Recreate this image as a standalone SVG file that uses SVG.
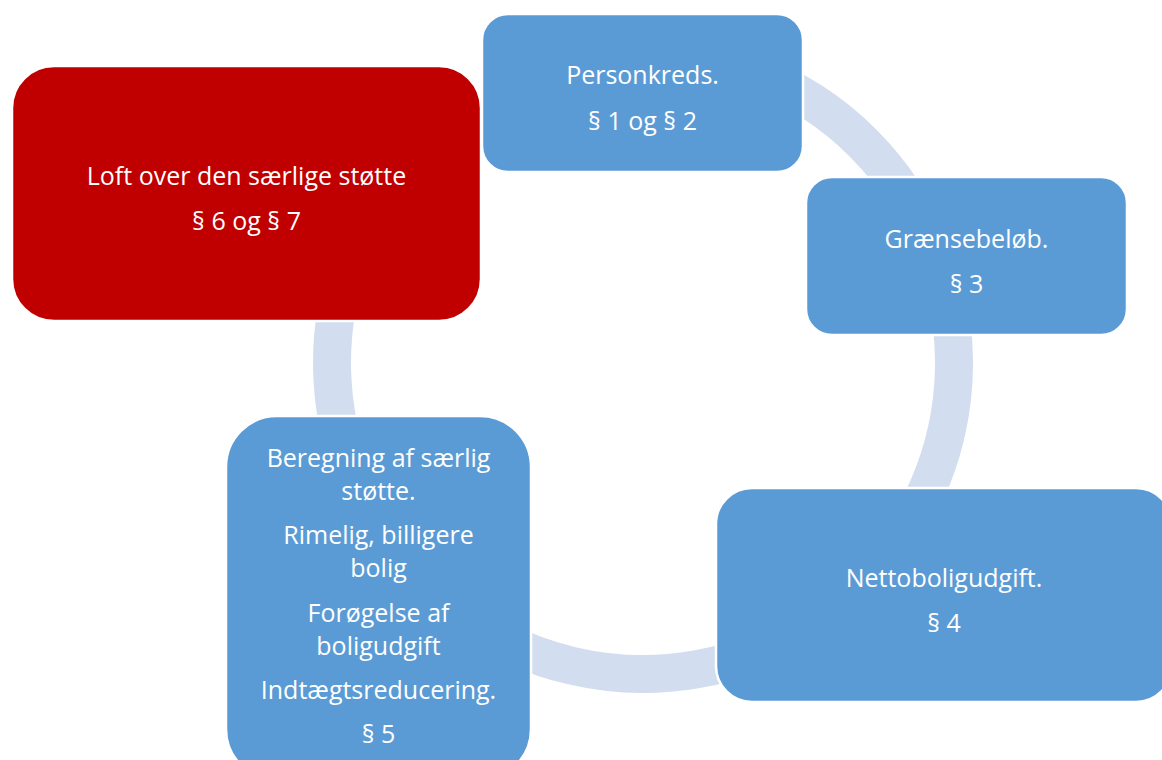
<svg xmlns="http://www.w3.org/2000/svg" width="1162" height="760" viewBox="0 0 1162 760">
<style>
.node{stroke:#FFFFFF;stroke-width:2.5}
.blue{fill:#5B9BD5}
.red{fill:#C00000}
.t{font-family:"Open Sans","Liberation Sans",sans-serif;font-size:25px;fill:#FFFFFF;text-anchor:middle}
.ring{fill:none;stroke:#D2DEEF;stroke-width:38}
</style>
<rect width="1162" height="760" fill="#FFFFFF"/>
<g id="connectors">
<path class="ring" d="M 643 52 A 311 311 0 1 1 350.8 256.6"/>
</g>
<g id="node-personkreds">
<rect class="node blue" x="482" y="14" width="321" height="158" rx="26" ry="26"/>
<text class="t" x="642.5" y="84">Personkreds.</text>
<text class="t" x="642.5" y="130">§ 1 og § 2</text>
</g>
<g id="node-graensebeloeb">
<rect class="node blue" x="806" y="177" width="321" height="158" rx="26" ry="26"/>
<text class="t" x="966.5" y="248">Grænsebeløb.</text>
<text class="t" x="966.5" y="293">§ 3</text>
</g>
<g id="node-nettoboligudgift">
<rect class="node blue" x="716" y="488" width="456" height="214" rx="36" ry="36"/>
<text class="t" x="944" y="587">Nettoboligudgift.</text>
<text class="t" x="944" y="632">§ 4</text>
</g>
<g id="node-beregning">
<rect class="node blue" x="226" y="416" width="305" height="364" rx="51" ry="51"/>
<text class="t" x="378.5" y="467">Beregning af særlig</text>
<text class="t" x="378.5" y="500">støtte.</text>
<text class="t" x="378.5" y="544">Rimelig, billigere</text>
<text class="t" x="378.5" y="577">bolig</text>
<text class="t" x="378.5" y="622">Forøgelse af</text>
<text class="t" x="378.5" y="655">boligudgift</text>
<text class="t" x="378.5" y="699">Indtægtsreducering.</text>
<text class="t" x="378.5" y="743">§ 5</text>
</g>
<g id="node-loft">
<rect class="node red" x="12" y="66" width="469" height="255" rx="42" ry="42"/>
<text class="t" x="246.5" y="185">Loft over den særlige støtte</text>
<text class="t" x="246.5" y="230">§ 6 og § 7</text>
</g>
</svg>
